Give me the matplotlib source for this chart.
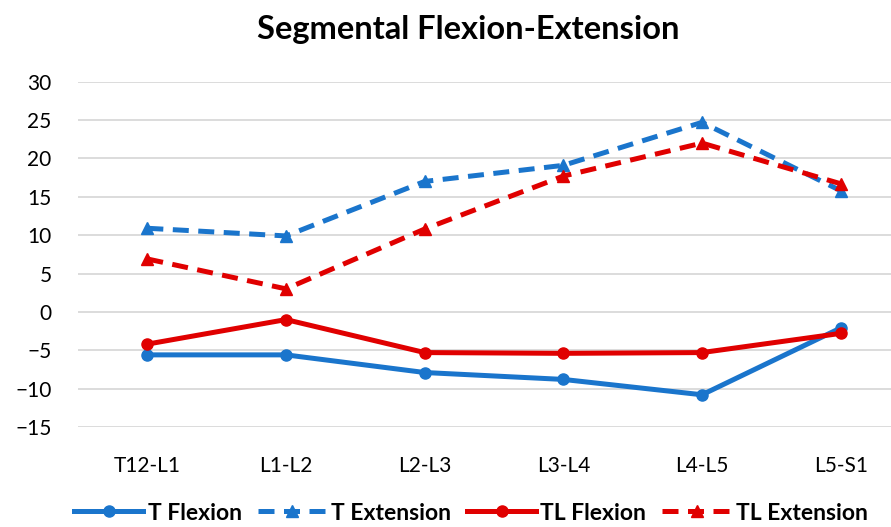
import matplotlib.pyplot as plt
import numpy as np

segments = ['T12-L1', 'L1-L2', 'L2-L3', 'L3-L4', 'L4-L5', 'L5-S1']
t_flexion = [-5.6, -5.6, -7.9, -8.8, -10.8, -2.1]
t_extension = [10.9, 9.9, 17.0, 19.1, 24.7, 15.8]
tl_flexion = [-4.2, -1.0, -5.3, -5.4, -5.3, -2.8]
tl_extension = [6.9, 3.0, 10.8, 17.7, 22.0, 16.7]

blue = '#1A75CC'
red = '#E00000'

plt.rcParams['font.family'] = ['Lato', 'DejaVu Sans']

fig = plt.figure(figsize=(8.91, 5.27), dpi=100)
ax = fig.add_axes([78 / 891, 1 - 427 / 527, 832 / 891, (427 - 81.7) / 527])

x = np.arange(len(segments))
dash = (0, (3.2, 1.9))
ax.plot(x, t_flexion, color=blue, lw=3.6, marker='o', ms=8, label='T Flexion')
ax.plot(x, t_extension, color=blue, lw=3.6, ls=dash, marker='^', ms=9, label='T Extension')
ax.plot(x, tl_flexion, color=red, lw=3.6, marker='o', ms=8, label='TL Flexion')
ax.plot(x, tl_extension, color=red, lw=3.6, ls=dash, marker='^', ms=9, label='TL Extension')

ax.set_xlim(-0.5, 5.5)
ax.set_ylim(-15, 30)
ax.set_yticks(range(-15, 31, 5))
ax.set_xticks(x)
ax.set_xticklabels(segments)
ax.grid(axis='y', color='#D9D9D9', lw=1.3)
ax.set_axisbelow(True)
for s in ax.spines.values():
    s.set_visible(False)
ax.tick_params(length=0, labelsize=15, colors='black')
ax.tick_params(axis='x', pad=21)
ax.tick_params(axis='y', pad=19)

fig.text(468 / 891, 1 - 29 / 527, 'Segmental Flexion-Extension', ha='center', va='center',
         fontsize=23.5, fontweight='bold')

leg = fig.legend(loc='center', bbox_to_anchor=(471 / 891, 1 - 513 / 527), ncol=4, frameon=False,
                 handlelength=3.0, columnspacing=0.7, handletextpad=0.2,
                 prop={'size': 16.5, 'weight': 'bold'})

fig.savefig('out.png', dpi=100)
